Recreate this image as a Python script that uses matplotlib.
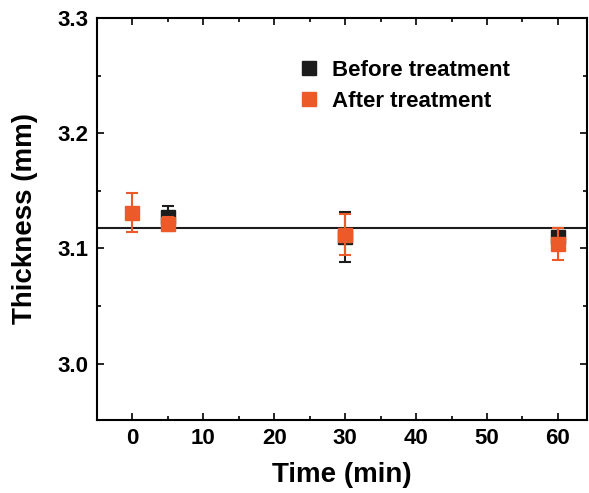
import matplotlib
matplotlib.use("Agg")
import matplotlib.pyplot as plt
from matplotlib.ticker import MultipleLocator, FormatStrFormatter
from matplotlib.lines import Line2D

plt.rcParams['font.family'] = ['Liberation Sans', 'DejaVu Sans']
plt.rcParams['font.weight'] = 'bold'

time_before = [5, 30, 60]
thick_before = [3.127, 3.110, 3.110]
err_before = [0.010, 0.0215, 0.008]

time_after = [0, 5, 30, 60]
thick_after = [3.131, 3.121, 3.112, 3.104]
err_after = [0.017, 0.006, 0.018, 0.014]

ref_line = 3.118

black = '#1c1c1c'
orange = '#ec5a2a'

fig = plt.figure(figsize=(5.89, 4.93), dpi=100)
ax = fig.add_axes([97/589, 1-420/493, (587-97)/589, (420-18)/493])

ax.axhline(ref_line, color=black, lw=1.5, zorder=1)
ax.errorbar(time_before, thick_before, yerr=err_before, fmt='s', color=black,
            ms=10.5, capsize=4.5, elinewidth=1.5, capthick=1.5, label='Before treatment', zorder=2)
ax.errorbar(time_after, thick_after, yerr=err_after, fmt='s', color=orange,
            ms=10.5, capsize=4.5, elinewidth=1.5, capthick=1.5, label='After treatment', zorder=3)

ax.set_xlim(-5, 64.1)
ax.set_ylim(2.951, 3.3)
ax.xaxis.set_major_locator(MultipleLocator(10))
ax.xaxis.set_minor_locator(MultipleLocator(5))
ax.yaxis.set_major_locator(MultipleLocator(0.1))
ax.yaxis.set_minor_locator(MultipleLocator(0.05))
ax.tick_params(which='both', direction='in', top=True, right=True, width=1.2)
ax.tick_params(which='major', length=5, labelsize=16, pad=6)
ax.tick_params(which='minor', length=3)
ax.yaxis.set_major_formatter(FormatStrFormatter('%.1f'))
for s in ax.spines.values():
    s.set_linewidth(1.5)
for lbl in ax.get_xticklabels() + ax.get_yticklabels():
    lbl.set_fontweight('bold')

ax.set_xlabel('Time (min)', fontsize=20, fontweight='bold', labelpad=9)
ax.set_ylabel('Thickness (mm)', fontsize=20, fontweight='bold', labelpad=14)

labels = ['Before treatment', 'After treatment']
h = [Line2D([], [], marker='s', ls='none', color=black, ms=10),
     Line2D([], [], marker='s', ls='none', color=orange, ms=10)]
ax.legend(h, labels, loc='upper left', bbox_to_anchor=(0.37, 0.945), frameon=False,
          prop={'size': 16, 'weight': 'bold'}, handletextpad=0.5, labelspacing=0.45,
          handlelength=1.0)

fig.savefig('out.png', dpi=100)
